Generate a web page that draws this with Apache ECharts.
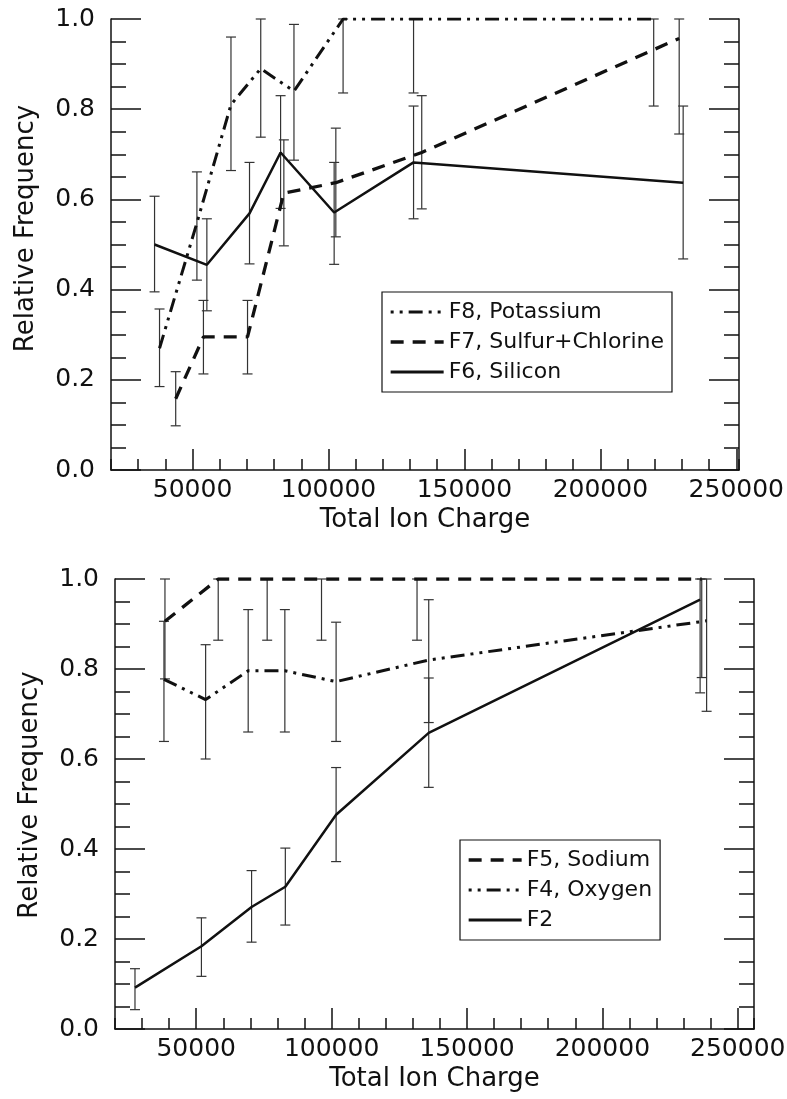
<!DOCTYPE html>
<html><head><meta charset="utf-8">
<script src="https://cdn.jsdelivr.net/npm/echarts@6/dist/echarts.min.js"></script>
<style>html,body{margin:0;padding:0;background:#fff}#c{width:787px;height:1099px}</style>
</head><body><div id="c"></div>
<script>
// ---------- tick labels ----------
const xTickLabels = [50000, 100000, 150000, 200000, 250000];
const yTickLabels = [0, 0.2, 0.4, 0.6, 0.8, 1.0];

// ---------- top panel ----------
const f8X  = [37850, 51600, 64130, 75080, 87300, 105370, 131290, 219620];
const f8Y  = [0.27, 0.548, 0.81, 0.89, 0.84, 1.0, 1.0, 1.0];
const f8Lo = [0.185, 0.421, 0.664, 0.738, 0.687, 0.836, 0.836, 0.807];
const f8Hi = [0.357, 0.661, 0.96, 1.0, 0.988, 1.0, 1.0, 1.0];

const f7X  = [43800, 54000, 70220, 83580, 102700, 134300, 229000];
const f7Y  = [0.158, 0.295, 0.295, 0.614, 0.637, 0.704, 0.957];
const f7Lo = [0.098, 0.213, 0.213, 0.497, 0.517, 0.579, 0.745];
const f7Hi = [0.218, 0.376, 0.376, 0.732, 0.758, 0.83, 1.0];

const f6X  = [36020, 55260, 70950, 82380, 102085, 131290, 230460];
const f6Y  = [0.50, 0.455, 0.569, 0.704, 0.571, 0.682, 0.637];
const f6Lo = [0.395, 0.353, 0.457, 0.58, 0.456, 0.557, 0.468];
const f6Hi = [0.607, 0.557, 0.682, 0.83, 0.682, 0.807, 0.807];

// ---------- bottom panel ----------
const f5X  = [38450, 58120, 76200, 96270, 131550, 236700];
const f5Y  = [0.906, 1.0, 1.0, 1.0, 1.0, 1.0];
const f5Lo = [0.778, 0.864, 0.864, 0.864, 0.864, 0.781];
const f5Hi = [1.0, 1.0, 1.0, 1.0, 1.0, 1.0];

const f4X  = [38080, 53470, 69190, 82730, 101660, 135870, 238500];
const f4Y  = [0.777, 0.732, 0.796, 0.796, 0.772, 0.82, 0.907];
const f4Lo = [0.639, 0.6, 0.66, 0.66, 0.639, 0.681, 0.706];
const f4Hi = [0.906, 0.854, 0.932, 0.932, 0.904, 0.954, 1.0];

const f2X  = [27380, 51920, 70440, 82910, 101660, 135870, 236100];
const f2Y  = [0.092, 0.184, 0.271, 0.316, 0.476, 0.658, 0.954];
const f2Lo = [0.043, 0.117, 0.193, 0.231, 0.372, 0.537, 0.747];
const f2Hi = [0.134, 0.247, 0.352, 0.402, 0.581, 0.78, 1.0];

const namesTop = ['F8, Potassium', 'F7, Sulfur+Chlorine', 'F6, Silicon'];
const namesBot = ['F5, Sodium', 'F4, Oxygen', 'F2'];

// ---------- build ----------
const FONT = 'DejaVu Sans';
const INK = '#111';
const DASHDOT = [14, 6, 3, 6, 3, 6];
const DASH = [13, 9];

const chart = echarts.init(document.getElementById('c'), null, {renderer: 'canvas'});

function zip(xs, ys) { return xs.map((x, i) => [x, ys[i]]); }
function bars(xs, lo, hi) { return xs.map((x, i) => [x, lo[i], hi[i]]); }

function errRender(params, api) {
  const x = api.value(0), lo = api.value(1), hi = api.value(2);
  const p1 = api.coord([x, hi]), p2 = api.coord([x, lo]);
  const cw = 5;
  const st = {stroke: '#333', lineWidth: 1.2};
  return {type: 'group', children: [
    {type: 'line', shape: {x1: p1[0], y1: p1[1], x2: p2[0], y2: p2[1]}, style: st},
    {type: 'line', shape: {x1: p1[0] - cw, y1: p1[1], x2: p1[0] + cw, y2: p1[1]}, style: st},
    {type: 'line', shape: {x1: p2[0] - cw, y1: p2[1], x2: p2[0] + cw, y2: p2[1]}, style: st}
  ]};
}

const tickLine = {color: INK, width: 1.5};

function makeX(g, max) {
  return [
    {type: 'value', gridIndex: g, position: 'bottom', min: 20000, max: max, interval: 10000,
     axisLine: {show: true, onZero: false, lineStyle: tickLine},
     axisTick: {show: true, inside: true, length: 11, lineStyle: tickLine},
     axisLabel: {show: true, margin: 8, fontFamily: FONT, fontSize: 25, color: INK,
       formatter: v => (xTickLabels.indexOf(Math.round(v)) >= 0 ? String(Math.round(v)) : '')},
     splitLine: {show: false},
     name: 'Total Ion Charge', nameLocation: 'middle', nameGap: 37,
     nameTextStyle: {fontFamily: FONT, fontSize: 26, color: INK}},
    {type: 'value', gridIndex: g, position: 'bottom', min: 20000, max: max,
     axisLine: {show: false, onZero: false},
     axisTick: {show: true, inside: true, length: 21, customValues: xTickLabels, lineStyle: tickLine},
     axisLabel: {show: false}, splitLine: {show: false}}
  ];
}

function makeY(g, padTop) {
  const base = {type: 'value', gridIndex: g, min: 0, max: 1, splitLine: {show: false}};
  return [
    Object.assign({}, base, {position: 'left', interval: 0.2,
      axisLine: {show: true, lineStyle: tickLine},
      axisTick: {show: true, inside: true, length: 30, lineStyle: tickLine},
      axisLabel: {show: true, margin: 16, fontFamily: FONT, fontSize: 25, color: INK,
        formatter: v => (yTickLabels.some(t => Math.abs(t - v) < 1e-6) ? v.toFixed(1) : '')},
      name: 'Relative Frequency', nameLocation: 'middle', nameRotate: 90, nameGap: 72,
      nameTextStyle: {fontFamily: FONT, fontSize: 26, color: INK, padding: [0, 0, 0, padTop]}}),
    Object.assign({}, base, {position: 'left', interval: 0.05,
      axisLine: {show: false},
      axisTick: {show: true, inside: true, length: 15, lineStyle: tickLine},
      axisLabel: {show: false}}),
    Object.assign({}, base, {position: 'right', interval: 0.2,
      axisLine: {show: true, lineStyle: tickLine},
      axisTick: {show: true, inside: true, length: 30, lineStyle: tickLine},
      axisLabel: {show: false}}),
    Object.assign({}, base, {position: 'right', interval: 0.05,
      axisLine: {show: false},
      axisTick: {show: true, inside: true, length: 15, lineStyle: tickLine},
      axisLabel: {show: false}})
  ];
}

function lineSeries(name, xs, ys, xi, yi, width, type) {
  return {type: 'line', name: name, xAxisIndex: xi, yAxisIndex: yi, data: zip(xs, ys),
    symbol: 'none', showSymbol: false, z: 3, animation: false,
    lineStyle: {color: INK, width: width, type: type},
    itemStyle: {color: INK}};
}
function errSeries(xs, lo, hi, xi, yi) {
  return {type: 'custom', xAxisIndex: xi, yAxisIndex: yi, data: bars(xs, lo, hi),
    renderItem: errRender, encode: {x: 0, y: [1, 2]}, z: 2, animation: false, silent: true};
}

function legend(items, left, top) {
  return {show: true, orient: 'vertical', left: left, top: top,
    data: items.map(it => ({name: it[0], lineStyle: {color: INK, width: it[1], type: it[2], dashOffset: it[3] || 0}})),
    itemWidth: 53, itemHeight: 14, itemGap: 8, padding: [9, 8, 9, 7],
    borderColor: INK, borderWidth: 1.2, backgroundColor: '#fff',
    selectedMode: false, inactiveColor: INK,
    itemStyle: {opacity: 0},
    textStyle: {fontFamily: FONT, fontSize: 22, color: INK, lineHeight: 22}};
}

const option = {
  backgroundColor: '#fff',
  animation: false,
  grid: [
    {left: 111, top: 19, width: 628, height: 451, outerBoundsMode: 'none', containLabel: false},
    {left: 115, top: 579, width: 639, height: 450, outerBoundsMode: 'none', containLabel: false}
  ],
  xAxis: makeX(0, 251000).concat(makeX(1, 256000)),
  yAxis: makeY(0, 32).concat(makeY(1, 18)),
  legend: [
    legend([[namesTop[0], 3, DASHDOT, 20], [namesTop[1], 3.3, DASH, 0], [namesTop[2], 3, 'solid']], 382, 292),
    legend([[namesBot[0], 3.3, DASH, 0], [namesBot[1], 3, DASHDOT, 20], [namesBot[2], 3, 'solid']], 460, 840)
  ],
  series: [
    errSeries(f8X, f8Lo, f8Hi, 0, 0),
    errSeries(f7X, f7Lo, f7Hi, 0, 0),
    errSeries(f6X, f6Lo, f6Hi, 0, 0),
    lineSeries(namesTop[0], f8X, f8Y, 0, 0, 3, DASHDOT),
    lineSeries(namesTop[1], f7X, f7Y, 0, 0, 3.3, DASH),
    lineSeries(namesTop[2], f6X, f6Y, 0, 0, 2.5, 'solid'),
    errSeries(f5X, f5Lo, f5Hi, 2, 4),
    errSeries(f4X, f4Lo, f4Hi, 2, 4),
    errSeries(f2X, f2Lo, f2Hi, 2, 4),
    lineSeries(namesBot[0], f5X, f5Y, 2, 4, 3.3, DASH),
    lineSeries(namesBot[1], f4X, f4Y, 2, 4, 3, DASHDOT),
    lineSeries(namesBot[2], f2X, f2Y, 2, 4, 2.5, 'solid')
  ]
};
chart.setOption(option);
</script></body></html>
